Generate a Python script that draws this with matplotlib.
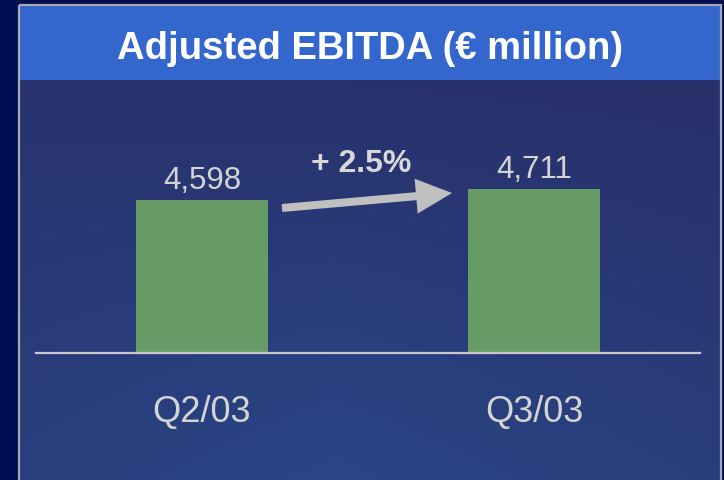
import numpy as np
import matplotlib
matplotlib.use("Agg")
import matplotlib.pyplot as plt
from matplotlib.patches import Rectangle, FancyArrow
from matplotlib.colors import to_rgb

# ---- data ----
title = "Adjusted EBITDA (\u20ac million)"
categories = ["Q2/03", "Q3/03"]
values = [4598, 4711]
value_labels = ["4,598", "4,711"]
change_label = "+ 2.5%"

W, H = 724, 481
fig = plt.figure(figsize=(W / 100, H / 100), dpi=100)
fig.patch.set_facecolor("#000c50")

# ---- background (pixel coordinates) ----
bg = fig.add_axes([0, 0, 1, 1], zorder=0)
bg.set_xlim(0, W)
bg.set_ylim(H, 0)
bg.axis("off")

# panel gradient
ny, nx = 200, 300
u = np.linspace(0, 1, nx)[None, :]
v = np.linspace(0, 1, ny)[:, None]
t = np.clip(v * (1 - 0.7 * np.abs(u - 0.45)) + 0.15 * (1 - u) * (1 - v), 0, 1)
top = np.array(to_rgb("#28306a"))
bot = np.array(to_rgb("#2a4686"))
img = top[None, None, :] * (1 - t[..., None]) + bot[None, None, :] * t[..., None]
bg.imshow(img, extent=(19, 721, H, 81), aspect="auto", zorder=0, interpolation="bilinear")

# title bar
bg.add_patch(Rectangle((19, 6), 702, 75, facecolor="#3467cd", edgecolor="none", zorder=1))
# border
bg.add_patch(Rectangle((18.5, 5.5), 702, 480, facecolor="none", edgecolor="#a8a8b0", lw=1.6, zorder=2))

bg.text(370, 59, title, ha="center", va="baseline", color="white",
        fontsize=27.5, fontweight="bold",
        family=["Liberation Sans", "DejaVu Sans"], zorder=3)

# change arrow and label
bg.add_patch(FancyArrow(282, 209, 170, -15, width=8, head_width=35, head_length=36,
                        length_includes_head=True, facecolor="#c0c0c0", edgecolor="none", zorder=3))
bg.text(361, 172, change_label, ha="center", va="baseline", color="#d8d8d8",
        fontsize=23, fontweight="bold", family=["Liberation Sans", "DejaVu Sans"], zorder=3)

# ---- bar chart ----
ax = fig.add_axes([36 / W, 127 / H, 664 / W, 254 / H], zorder=1)
ax.patch.set_alpha(0)
x = np.arange(len(categories))
bars = ax.bar(x, values, width=0.4, color="#679b65", zorder=2)
ax.set_xlim(-0.5, 1.5)
ax.set_ylim(3026, 5636)
for s in ["top", "left", "right"]:
    ax.spines[s].set_visible(False)
ax.spines["bottom"].set_color("#c8c8d0")
ax.spines["bottom"].set_linewidth(1.6)
ax.set_yticks([])
ax.set_xticks(x)
ax.set_xticklabels(categories, fontsize=26, color="#d4d4d4", family=["Liberation Sans", "DejaVu Sans"])
ax.tick_params(axis="x", length=0, pad=49)
for lab in ax.get_xticklabels():
    lab.set_va("baseline")

for xi, val, lab in zip(x, values, value_labels):
    ax.annotate(lab, (xi, val), xytext=(0, 8.4), textcoords="offset points",
                ha="center", va="baseline", fontsize=22.5, color="#d4d4d4",
                family=["Liberation Sans", "DejaVu Sans"])

fig.savefig("out.png", dpi=100, facecolor=fig.get_facecolor())
